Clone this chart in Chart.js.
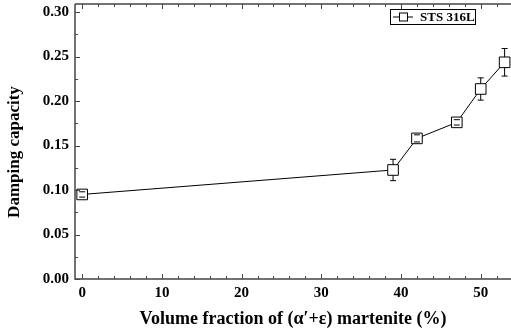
<!DOCTYPE html>
<html>
<head>
<meta charset="utf-8">
<script src="https://cdn.jsdelivr.net/npm/chart.js@4.4.0/dist/chart.umd.min.js"></script>
<style>
  html, body { margin: 0; padding: 0; background: #fff; }
</style>
</head>
<body>
<canvas id="c" width="511" height="333"></canvas>
<script>
// damping capacity vs. martensite volume fraction
const fraction = [0, 39, 42, 47, 50, 53];
const damping = [0.095, 0.1225, 0.158, 0.176, 0.2135, 0.2435];
const dampingErr = [0.003, 0.012, 0.004, 0.003, 0.0125, 0.0155];

const xTicks = [0, 10, 20, 30, 40, 50];
const yTicks = [0, 0.05, 0.10, 0.15, 0.20, 0.25, 0.30];
const xMinorStep = 2;
const yMinorStep = 0.025;

const FONT = '"Liberation Serif", "Times New Roman", serif';
const AXIS = '#444';
const BOX_R = 7.5;

// error bars: caps plus stems that stop at the square marker
const errorBars = {
  id: 'errorBars',
  afterDatasetsDraw(chart) {
    const { ctx, scales: { x, y } } = chart;
    const half = BOX_R * Math.SQRT1_2;
    ctx.save();
    ctx.strokeStyle = '#000';
    ctx.lineWidth = 1;
    fraction.forEach((f, i) => {
      const px = x.getPixelForValue(f);
      const py = y.getPixelForValue(damping[i]);
      const top = y.getPixelForValue(damping[i] + dampingErr[i]);
      const bot = y.getPixelForValue(damping[i] - dampingErr[i]);
      ctx.beginPath();
      if (top < py - half) { ctx.moveTo(px, top); ctx.lineTo(px, py - half); }
      if (bot > py + half) { ctx.moveTo(px, bot); ctx.lineTo(px, py + half); }
      ctx.moveTo(px - 3, top); ctx.lineTo(px + 3, top);
      ctx.moveTo(px - 3, bot); ctx.lineTo(px + 3, bot);
      ctx.stroke();
    });
    ctx.restore();
  }
};

// frame, inward ticks, titles and legend
const frame = {
  id: 'frame',
  afterDraw(chart) {
    const { ctx, chartArea: a, scales: { x, y } } = chart;
    ctx.save();
    ctx.strokeStyle = AXIS;
    ctx.lineWidth = 1.5;
    ctx.beginPath();
    ctx.moveTo(a.left, a.top); ctx.lineTo(a.right, a.top);
    ctx.moveTo(a.left, a.top); ctx.lineTo(a.left, a.bottom); ctx.lineTo(a.right, a.bottom);
    ctx.stroke();

    ctx.lineWidth = 1;
    ctx.beginPath();
    for (let v = Math.ceil(x.min / xMinorStep) * xMinorStep; v <= x.max; v += xMinorStep) {
      const px = Math.round(x.getPixelForValue(v)) + 0.5;
      const len = xTicks.includes(v) ? 5 : 3;
      ctx.moveTo(px, a.bottom); ctx.lineTo(px, a.bottom - len);
      ctx.moveTo(px, a.top); ctx.lineTo(px, a.top + len);
    }
    for (let k = 0; k * yMinorStep <= y.max + 1e-9; k++) {
      const v = k * yMinorStep;
      const py = Math.round(y.getPixelForValue(v)) + 0.5;
      const len = k % 2 === 0 ? 5 : 3;
      ctx.moveTo(a.left, py); ctx.lineTo(a.left + len, py);
    }
    ctx.stroke();

    // axis titles
    ctx.fillStyle = '#000';
    ctx.textAlign = 'center';
    ctx.textBaseline = 'middle';
    ctx.font = 'bold 18px ' + FONT;
    ctx.fillText('Volume fraction of (\u03B1\u2032+\u03B5) martenite (%)', (a.left + a.right) / 2, 319);
    ctx.font = 'bold 17px ' + FONT;
    ctx.save();
    ctx.translate(15, 152);
    ctx.rotate(-Math.PI / 2);
    ctx.fillText('Damping capacity', 0, 0);
    ctx.restore();

    // legend
    ctx.strokeStyle = '#000';
    ctx.lineWidth = 1;
    ctx.strokeRect(390.5, 9.5, 85, 15);
    ctx.beginPath();
    ctx.moveTo(393, 17); ctx.lineTo(413, 17);
    ctx.stroke();
    ctx.fillStyle = '#fff';
    ctx.fillRect(399.5, 13, 8, 8);
    ctx.strokeRect(399.5, 13, 8, 8);
    ctx.fillStyle = '#000';
    ctx.font = 'bold 13px ' + FONT;
    ctx.textAlign = 'left';
    ctx.fillText('STS 316L', 420, 17.5);
    ctx.restore();
  }
};

new Chart(document.getElementById('c'), {
  type: 'line',
  data: {
    datasets: [{
      label: 'STS 316L',
      data: fraction.map((f, i) => ({ x: f, y: damping[i] })),
      borderColor: '#000',
      borderWidth: 1,
      pointStyle: 'rect',
      pointRadius: BOX_R,
      pointBackgroundColor: '#fff',
      pointBorderColor: '#000',
      pointBorderWidth: 1,
      tension: 0,
      clip: false
    }]
  },
  options: {
    responsive: false,
    animation: false,
    events: [],
    layout: { autoPadding: false, padding: { top: 4, right: 0, left: 0, bottom: 0 } },
    plugins: { legend: { display: false }, tooltip: { enabled: false } },
    scales: {
      x: {
        type: 'linear',
        min: -0.9,
        max: 53.8,
        afterBuildTicks: s => { s.ticks = xTicks.map(v => ({ value: v })); },
        afterFit: s => { s.height = 54; s.paddingLeft = 0; s.paddingRight = 0; },
        grid: { display: false, drawTicks: false },
        border: { display: false },
        ticks: {
          padding: 5,
          color: '#000',
          font: { family: FONT, size: 15, weight: 'bold' },
          maxRotation: 0,
          callback: v => String(v)
        }
      },
      y: {
        min: 0,
        max: 0.309,
        afterBuildTicks: s => { s.ticks = yTicks.map(v => ({ value: v })); },
        afterFit: s => { s.width = 75; s.paddingTop = 0; s.paddingBottom = 0; },
        grid: { display: false, drawTicks: false },
        border: { display: false },
        ticks: {
          padding: 6,
          color: '#000',
          font: { family: FONT, size: 15, weight: 'bold' },
          callback: v => v.toFixed(2)
        }
      }
    }
  },
  plugins: [errorBars, frame]
});
</script>
</body>
</html>
